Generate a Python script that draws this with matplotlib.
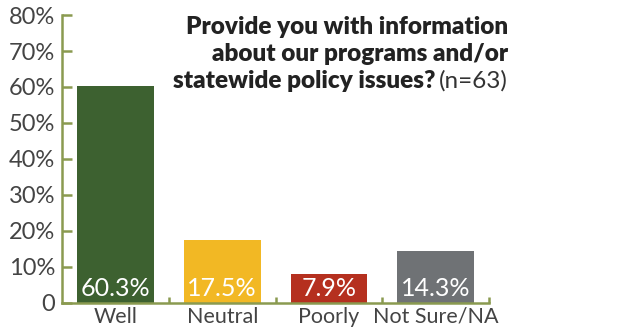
import matplotlib
matplotlib.use('Agg')
import matplotlib.pyplot as plt

categories = ['Well', 'Neutral', 'Poorly', 'Not Sure/NA']
values = [60.3, 17.5, 7.9, 14.3]
bar_colors = ['#3d6130', '#f2b824', '#b5301f', '#6f7275']
yticks = [0, 10, 20, 30, 40, 50, 60, 70, 80]
ytick_labels = ['0', '10%', '20%', '30%', '40%', '50%', '60%', '70%', '80%']
title_lines = ['Provide you with information', 'about our programs and/or', 'statewide policy issues?']
title_n = '(n=63)'

plt.rcParams['font.family'] = 'Lato'
axis_color = '#8a9a50'
text_color = '#444444'

fig = plt.figure(figsize=(6.2, 3.31), dpi=100)
ax = fig.add_axes([0.1, 0.0855, 0.689, 0.869])

x = range(len(categories))
ax.bar(x, values, width=0.72, color=bar_colors, zorder=2)

for i, v in enumerate(values):
    ax.text(i, 1.9, f'{v:.1f}%', ha='center', va='baseline', color='white', fontsize=18)

ax.set_xlim(-0.5, 3.5)
ax.set_ylim(0, 80)
ax.set_yticks(yticks)
ax.set_yticklabels(ytick_labels, fontsize=17, color=text_color)
ax.set_xticks(list(x))
ax.set_xticklabels(categories, fontsize=15.5, color=text_color)
ax.set_xticks([0.5, 1.5, 2.5, 3.5], minor=True)

ax.tick_params(axis='y', direction='in', length=7, width=1.8, color=axis_color, pad=5)
ax.tick_params(axis='x', which='major', length=0, pad=3)
ax.tick_params(axis='x', which='minor', direction='in', length=4, width=1.8, color=axis_color)

for side in ['top', 'right']:
    ax.spines[side].set_visible(False)
for side in ['left', 'bottom']:
    ax.spines[side].set_color(axis_color)
    ax.spines[side].set_linewidth(1.8)

# title: bold question, regular sample size on last line
tx = 508 / 620
baselines = [34, 61, 88]
for line, yb in zip(title_lines[:2], baselines[:2]):
    fig.text(tx, 1 - yb / 331, line, ha='right', va='baseline', fontsize=17.5, fontweight='heavy', color='#222222')

n_txt = fig.text(tx, 1 - baselines[2] / 331, title_n, ha='right', va='baseline', fontsize=17.5, color='#333333')
fig.canvas.draw()
bb = n_txt.get_window_extent()
x_left = (bb.x0 - 4) / fig.bbox.width
fig.text(x_left, 1 - baselines[2] / 331, title_lines[2], ha='right', va='baseline', fontsize=17.5, fontweight='heavy', color='#222222')

fig.savefig('out.png', dpi=100)
